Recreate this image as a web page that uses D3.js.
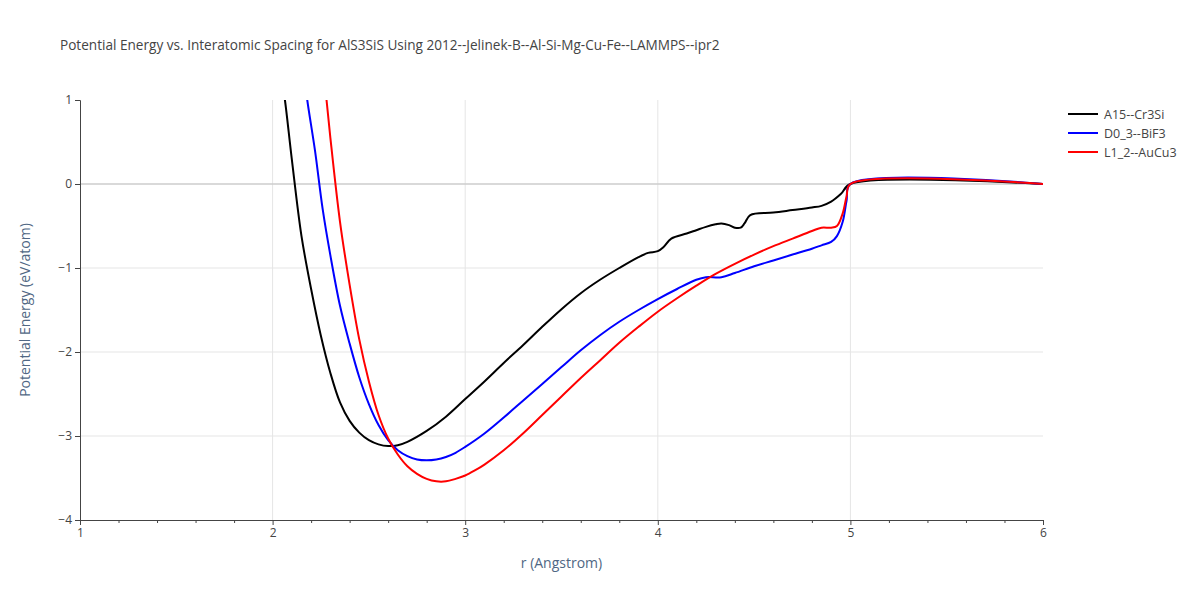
<!DOCTYPE html><html><head><meta charset="utf-8"><script src="https://cdn.jsdelivr.net/npm/d3@7"></script>
<style>body{margin:0;background:#fff}text{font-family:"Open Sans",sans-serif}</style></head><body><svg id="c" width="1200" height="600"></svg><script>
const title="Potential Energy vs. Interatomic Spacing for AlS3SiS Using 2012--Jelinek-B--Al-Si-Mg-Cu-Fe--LAMMPS--ipr2";
const seriesNames=["A15--Cr3Si","D0_3--BiF3","L1_2--AuCu3"];
const colors=["#000000","#0000ff","#ff0000"];
const xTicks=[1,2,3,4,5,6], yTicks=[1,0,-1,-2,-3,-4];
const a15=[[2.05,1.2],[2.064,1],[2.1,0.29],[2.15,-0.62],[2.2,-1.25],[2.25,-1.8],[2.3,-2.25],[2.35,-2.6],[2.4,-2.82],[2.45,-2.96],[2.5,-3.05],[2.55,-3.1],[2.6,-3.12],[2.65,-3.11],[2.7,-3.07],[2.8,-2.94],[2.9,-2.77],[3.0,-2.56],[3.1,-2.35],[3.2,-2.13],[3.3,-1.92],[3.4,-1.70],[3.5,-1.49],[3.6,-1.30],[3.7,-1.14],[3.8,-1.00],[3.9,-0.87],[3.95,-0.82],[4.0,-0.80],[4.03,-0.75],[4.07,-0.65],[4.15,-0.59],[4.2,-0.55],[4.25,-0.51],[4.3,-0.48],[4.33,-0.47],[4.37,-0.49],[4.4,-0.52],[4.43,-0.52],[4.45,-0.47],[4.48,-0.37],[4.6,-0.34],[4.7,-0.31],[4.8,-0.28],[4.85,-0.26],[4.9,-0.21],[4.95,-0.12],[5.0,0],[6.0,0]];
const d03=[[2.17,1.2],[2.18,1],[2.22,0.4],[2.26,-0.3],[2.3,-0.85],[2.35,-1.45],[2.4,-1.9],[2.45,-2.3],[2.5,-2.62],[2.55,-2.87],[2.6,-3.05],[2.65,-3.17],[2.7,-3.24],[2.75,-3.28],[2.8,-3.29],[2.85,-3.28],[2.9,-3.25],[2.95,-3.2],[3.0,-3.13],[3.1,-2.97],[3.2,-2.78],[3.3,-2.58],[3.4,-2.38],[3.5,-2.18],[3.6,-1.98],[3.7,-1.8],[3.8,-1.64],[3.9,-1.5],[4.0,-1.37],[4.1,-1.25],[4.2,-1.14],[4.25,-1.11],[4.33,-1.11],[4.4,-1.06],[4.5,-0.98],[4.6,-0.91],[4.7,-0.84],[4.8,-0.77],[4.85,-0.73],[4.9,-0.69],[4.93,-0.62],[4.96,-0.45],[4.98,-0.2],[5.0,0],[6.0,0]];
const l12=[[2.27,1.2],[2.28,1],[2.3,0.55],[2.35,-0.45],[2.4,-1.2],[2.45,-1.85],[2.5,-2.35],[2.55,-2.75],[2.6,-3.03],[2.65,-3.22],[2.7,-3.36],[2.75,-3.45],[2.8,-3.51],[2.85,-3.54],[2.9,-3.54],[2.95,-3.51],[3.0,-3.47],[3.05,-3.41],[3.1,-3.34],[3.2,-3.17],[3.3,-2.97],[3.4,-2.75],[3.5,-2.53],[3.6,-2.31],[3.7,-2.1],[3.8,-1.89],[3.9,-1.7],[4.0,-1.52],[4.1,-1.36],[4.2,-1.21],[4.3,-1.07],[4.4,-0.95],[4.5,-0.84],[4.6,-0.74],[4.7,-0.65],[4.8,-0.56],[4.85,-0.52],[4.9,-0.52],[4.93,-0.5],[4.96,-0.35],[4.98,-0.15],[5.0,0],[6.0,0]];
const data=[a15,d03,l12];
const svg=d3.select("#c");
const L=80,R=1043,T=100,B=520;
const x=d3.scaleLinear().domain([1,6]).range([L,R]);
const y=d3.scaleLinear().domain([-4,1]).range([B,T]);
svg.append("text").attr("x",60).attr("y",50).attr("font-size",13.6).attr("fill","#444").text(title);
const g=svg.append("g");
g.selectAll(".vg").data(xTicks.slice(1,-1)).join("line").attr("x1",d=>x(d)).attr("x2",d=>x(d)).attr("y1",T).attr("y2",B).attr("stroke","#e5e5e5");
g.selectAll(".hg").data([-1,-2,-3]).join("line").attr("x1",L).attr("x2",R).attr("y1",d=>y(d)).attr("y2",d=>y(d)).attr("stroke","#e5e5e5");
g.append("line").attr("x1",L).attr("x2",R).attr("y1",y(0)).attr("y2",y(0)).attr("stroke","#ccc").attr("stroke-width",1.5);
svg.append("defs").append("clipPath").attr("id","cp").append("rect").attr("x",L).attr("y",T).attr("width",R-L).attr("height",B-T);
const line=d3.line().x(d=>x(d[0])).y(d=>y(d[1])).curve(d3.curveCatmullRom);
svg.append("g").attr("clip-path","url(#cp)").selectAll("path").data(data).join("path").attr("d",line).attr("fill","none").attr("stroke",(d,i)=>colors[i]).attr("stroke-width",2);
const xa=svg.append("g").attr("transform",`translate(0,${B})`).call(d3.axisBottom(x).tickValues(d3.range(1,6.01,0.2)).tickSize(5).tickFormat(d=>Math.abs(d-Math.round(d))<1e-6?d3.format("d")(d):""));
xa.selectAll(".tick line").attr("y2",d=>Math.abs(d-Math.round(d))<1e-6?5:3);
const ya=svg.append("g").attr("transform",`translate(${L},0)`).call(d3.axisLeft(y).tickValues(yTicks).tickSize(5).tickFormat(d=>d<0?"−"+Math.abs(d):d));
[xa,ya].forEach(a=>{a.select(".domain").attr("stroke","#444");a.selectAll(".tick line").attr("stroke","#444");a.selectAll("text").attr("fill","#444").attr("font-size",12).style("font-family","Open Sans")});
svg.append("text").attr("x",(L+R)/2).attr("y",568).attr("text-anchor","middle").attr("font-size",14).attr("fill","#506784").text("r (Angstrom)");
svg.append("text").attr("transform",`translate(30,${(T+B)/2}) rotate(-90)`).attr("text-anchor","middle").attr("font-size",14).attr("fill","#506784").text("Potential Energy (eV/atom)");
const lg=svg.append("g").attr("transform","translate(1068,114)");
seriesNames.forEach((n,i)=>{const r=lg.append("g").attr("transform",`translate(0,${i*19})`);
r.append("line").attr("x1",0).attr("x2",30).attr("stroke",colors[i]).attr("stroke-width",2);
r.append("text").attr("x",36).attr("y",4.5).attr("font-size",12.5).attr("fill","#444").text(n);});
</script></body></html>
